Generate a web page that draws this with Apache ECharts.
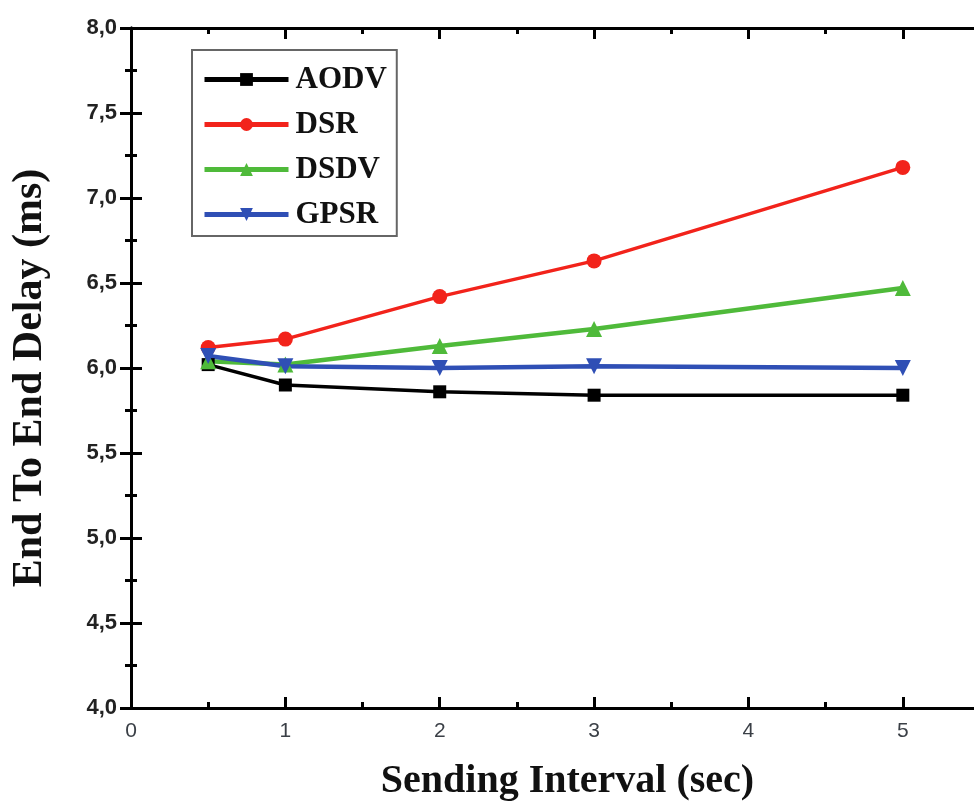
<!DOCTYPE html>
<html>
<head>
<meta charset="utf-8">
<script src="https://cdn.jsdelivr.net/npm/echarts@6/dist/echarts.min.js"></script>
<style>
html,body{margin:0;padding:0;background:#fff;overflow:hidden;}
#chart{width:974px;height:805px;}
</style>
</head>
<body>
<div id="chart"></div>
<script>
const xValues = [0.5, 1, 2, 3, 5];
const aodv = [6.02, 5.90, 5.86, 5.84, 5.84];
const dsr  = [6.12, 6.17, 6.42, 6.63, 7.18];
const dsdv = [6.04, 6.02, 6.13, 6.23, 6.47];
const gpsr = [6.07, 6.01, 6.00, 6.01, 6.00];
const seriesNames = ['AODV', 'DSR', 'DSDV', 'GPSR'];
const xTickLabels = ['0', '1', '2', '3', '4', '5'];
const yTickLabels = ['4,0', '4,5', '5,0', '5,5', '6,0', '6,5', '7,0', '7,5', '8,0'];

const pairs = arr => xValues.map((x, i) => [x, arr[i]]);

const axisLine = { show: true, lineStyle: { color: '#000', width: 3 } };
const majorTick = { show: true, inside: true, length: 11, lineStyle: { color: '#000', width: 3 } };
const minorTick = () => ({ show: true, splitNumber: 2, length: 6, lineStyle: { color: '#000', width: 3 } });

const chart = echarts.init(document.getElementById('chart'));
chart.setOption({
  animation: false,
  backgroundColor: '#fff',
  grid: { left: 131, top: 28, width: 849, bottom: 97, containLabel: false, outerBoundsMode: 'none' },
  legend: {
    orient: 'vertical',
    left: 192, top: 50,
    padding: [14, 10, 6, 10],
    itemGap: 14,
    itemWidth: 84,
    itemHeight: 16,
    borderColor: '#666',
    borderWidth: 2,
    backgroundColor: '#fff',
    lineStyle: { width: 5 },
    textStyle: { fontFamily: 'Liberation Serif', fontWeight: 'bold', fontSize: 31, color: '#111', padding: [0, 0, 0, 2], lineHeight: 31 },
    data: seriesNames
  },
  xAxis: [{
    type: 'value', min: 0, max: 5.5, interval: 1, position: 'bottom',
    axisLine, axisTick: majorTick, minorTick: minorTick(), splitLine: { show: false },
    axisLabel: {
      margin: 13, fontFamily: 'Liberation Sans', fontSize: 21, color: '#3a3f46',
      formatter: v => (Number.isInteger(v) && v < xTickLabels.length) ? xTickLabels[v] : ''
    },
    name: 'Sending Interval (sec)', nameLocation: 'middle', nameGap: 54,
    nameTextStyle: { fontFamily: 'Liberation Serif', fontWeight: 'bold', fontSize: 40, color: '#111', padding: [0, 0, 0, 24] }
  }, {
    type: 'value', min: 0, max: 5.5, interval: 1, position: 'top',
    axisLine, axisTick: majorTick, minorTick: minorTick(), splitLine: { show: false },
    axisLabel: { show: false }
  }],
  yAxis: [{
    type: 'value', min: 4, max: 8, interval: 0.5, position: 'left',
    axisLine, axisTick: majorTick, minorTick: minorTick(), splitLine: { show: false },
    axisLabel: {
      margin: 14, fontFamily: 'Liberation Sans', fontWeight: 'bold', fontSize: 22, color: '#222',
      formatter: v => yTickLabels[Math.round((v - 4) / 0.5)]
    },
    name: 'End To End Delay (ms)', nameLocation: 'middle', nameGap: 80,
    nameTextStyle: { fontFamily: 'Liberation Serif', fontWeight: 'bold', fontSize: 42, color: '#111', padding: [0, 20, 0, 0] }
  }, {
    type: 'value', min: 4, max: 8, interval: 0.5, position: 'right',
    axisLine, axisTick: majorTick, minorTick: minorTick(), splitLine: { show: false },
    axisLabel: { show: false }
  }],
  series: [
    { name: 'AODV', type: 'line', data: pairs(aodv), symbol: 'rect', symbolSize: 13,
      itemStyle: { color: '#000' }, lineStyle: { color: '#000', width: 3.5 } },
    { name: 'DSR', type: 'line', data: pairs(dsr), symbol: 'circle', symbolSize: 15,
      itemStyle: { color: '#f2231b' }, lineStyle: { color: '#f2231b', width: 3.5 } },
    { name: 'DSDV', type: 'line', data: pairs(dsdv), symbol: 'triangle', symbolSize: 16,
      itemStyle: { color: '#4fba3a' }, lineStyle: { color: '#4fba3a', width: 4.5 } },
    { name: 'GPSR', type: 'line', data: pairs(gpsr), symbol: 'triangle', symbolRotate: 180, symbolSize: 16,
      itemStyle: { color: '#2f4fb5' }, lineStyle: { color: '#2f4fb5', width: 4.5 } }
  ]
});
</script>
</body>
</html>
